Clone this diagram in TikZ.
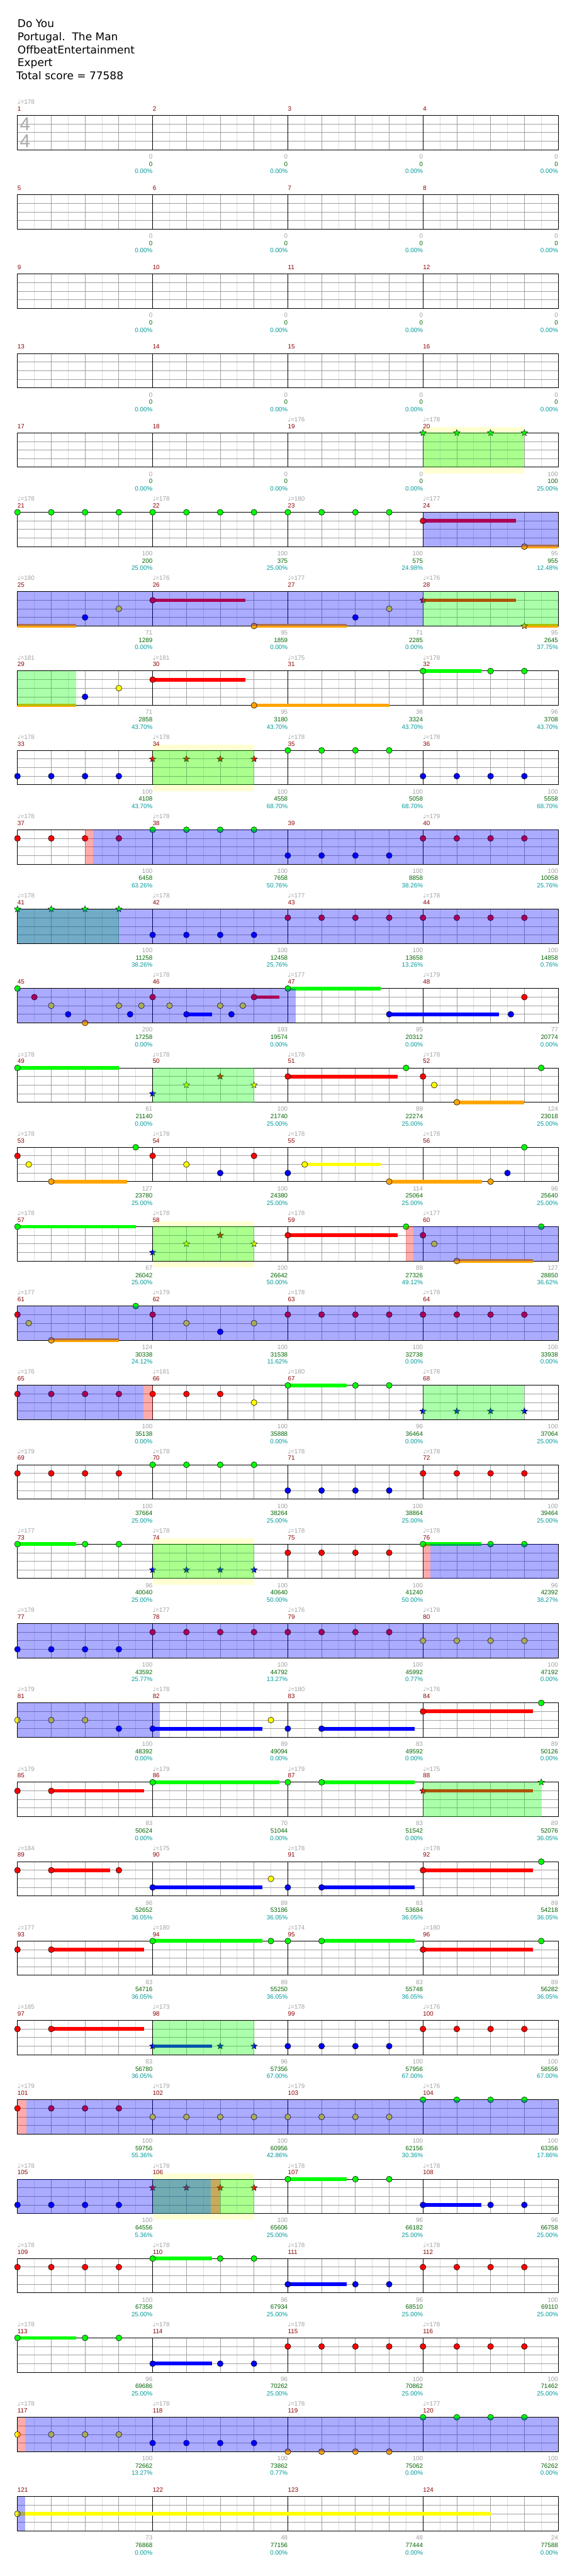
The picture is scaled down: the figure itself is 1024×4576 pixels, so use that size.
\documentclass[tikz,border=0pt]{standalone}
\usepackage{fontspec}
\setmainfont{Liberation Sans}
\newfontfamily\ttlfont{DejaVu Sans}
\newfontfamily\qnfont{DejaVu Sans}
\usepackage{tikz}
\usetikzlibrary{shapes.geometric}
\definecolor{fretgreen}{HTML}{00FF00}
\definecolor{fretred}{HTML}{FF0000}
\definecolor{fretyellow}{HTML}{FFFF00}
\definecolor{fretblue}{HTML}{0000FF}
\definecolor{fretorange}{HTML}{FFA500}
\definecolor{barnum}{HTML}{8B0000}
\definecolor{tempogray}{HTML}{A0A0A0}
\definecolor{scoregreen}{HTML}{006400}
\definecolor{pctteal}{HTML}{009999}
\definecolor{gridlight}{HTML}{DCDCDC}
\definecolor{gridmid}{HTML}{A0A0A0}
\definecolor{sigray}{HTML}{AAAAAA}
\definecolor{soloyellow}{HTML}{FFFFD2}
\pgfdeclarelayer{bg}
\pgfdeclarelayer{grid}
\pgfdeclarelayer{sus}
\pgfdeclarelayer{over}
\pgfdeclarelayer{top}
\pgfsetlayers{bg,grid,sus,main,over,top}
\tikzset{
  % gems
  gem/.style={circle,draw=black,line width=0.6pt,inner sep=0pt,minimum size=10.5pt},
  stargem/.style={star,star points=5,star point ratio=2.3,draw=black,line width=0.5pt,
                  inner sep=0pt,minimum size=12pt},
  susbar/.style={line width=6.5pt},
  % staff
  eighth/.style={draw=gridlight,line width=0.9pt},
  beatline/.style={draw=gridmid,line width=0.9pt},
  barline/.style={draw=black,line width=1.1pt},
  % texts
  header/.style={font=\ttlfont\fontsize{19}{23}\selectfont,anchor=base west,inner sep=0pt},
  timesig/.style={font=\fontsize{33}{33}\selectfont,text=sigray,anchor=base west,inner sep=0pt},
  barnumber/.style={font=\fontsize{11}{12}\selectfont,text=barnum,anchor=base west,inner sep=0pt},
  tempo/.style={font=\fontsize{11}{12}\selectfont,text=tempogray,anchor=base west,inner sep=0pt},
  stat/.style={font=\fontsize{11}{12}\selectfont,anchor=base east,inner sep=0pt},
  % zones
  spfill/.style={fill=fretgreen,fill opacity=0.33},
  odfill/.style={fill=fretblue,fill opacity=0.33},
  actfill/.style={fill=fretred,fill opacity=0.33},
  solofill/.style={fill=soloyellow},
}
% row, lane, colour, beats
\newcommand{\gems}[4]{%
  \foreach \bt [count=\i] in {#4}
    \node[gem,fill=#3] (g#1-#2-#3-\i) at ({31+60*\bt},{205+141*#1+15.25*#2}) {};}
\newcommand{\stargems}[4]{%
  \foreach \bt [count=\i] in {#4}
    \node[stargem,fill=#3] (s#1-#2-#3-\i) at ({31+60*\bt},{205+141*#1+15.25*#2}) {};}
% row, lane, colour, from, to
\newcommand{\sustain}[5]{%
  \begin{pgfonlayer}{sus}
  \draw[susbar,#3] ({31+60*#4},{205+141*#1+15.25*#2}) -- ({31+60*#5},{205+141*#1+15.25*#2});
  \end{pgfonlayer}}
% row, from, to
\newcommand{\spzone}[3]{%
  \begin{pgfonlayer}{over}
  \fill[spfill] ({31+60*#2},{205+141*#1}) rectangle ({31+60*#3},{266+141*#1});
  \end{pgfonlayer}}
\newcommand{\odzone}[3]{%
  \begin{pgfonlayer}{top}
  \fill[odfill] ({31+60*#2},{205+141*#1}) rectangle ({31+60*#3},{266+141*#1});
  \end{pgfonlayer}}
\newcommand{\actzone}[3]{%
  \begin{pgfonlayer}{top}
  \fill[actfill] ({31+60*#2},{205+141*#1}) rectangle ({31+60*#3},{266+141*#1});
  \end{pgfonlayer}}
\newcommand{\solozone}[3]{%
  \begin{pgfonlayer}{bg}
  \fill[solofill] ({31+60*#2},{195+141*#1}) rectangle ({31+60*#3},{277+141*#1});
  \end{pgfonlayer}}

\begin{document}
\begin{tikzpicture}[x=1pt,y=-1pt]
  \useasboundingbox (0,0) rectangle (1024,4576);
  \begin{pgfonlayer}{bg}
  \fill[white] (0,0) rectangle (1024,4576);
  \end{pgfonlayer}
  % header
  \node[header] (song) at (31,49) {Do You};
  \node[header] (artist) at (31,72) {Portugal.\ \ The Man};
  \node[header] (charter) at (31,95) {OffbeatEntertainment};
  \node[header] (level) at (31,118) {Expert};
  \node[header] (total) at (29,141) {Total score = 77588};
  \node[timesig] (tsa) at (35,232) {4};
  \node[timesig] (tsb) at (35,262) {4};
  % staves
  \begin{pgfonlayer}{grid}
  \foreach \r in {0,...,30}{
    \pgfmathsetmacro\tp{205+141*\r}
    \foreach \e in {1,3,...,31}
      \draw[eighth] ({31+30*\e},\tp) -- ++(0,61);
    \foreach \q in {1,2,3,5,6,7,9,10,11,13,14,15}
      \draw[beatline] ({31+60*\q},\tp) -- ++(0,61);
    \foreach \l in {1,2,3}
      \draw[beatline] (31,{\tp+15.25*\l}) -- ++(960,0);
    \foreach \q in {4,8,12}
      \draw[barline] ({31+60*\q},\tp) -- ++(0,61);
    \draw[barline] (31,\tp) rectangle ++(960,61);
  }
  \end{pgfonlayer}
  % bar numbers
  \foreach \m in {1,...,124}{
    \pgfmathtruncatemacro\rw{(\m-1)/4}
    \pgfmathtruncatemacro\cl{\m-1-4*\rw}
    \node[barnumber] (bn\m) at ({31+240*\cl},{197+141*\rw}) {\m};
  }
  % tempi
  \foreach \m/\t in {1/178,19/176,20/178,21/178,22/178,23/180,24/177,25/180,26/176,27/177,28/176,
      29/181,30/181,31/175,32/178,33/178,34/178,35/178,36/178,37/178,38/178,40/179,
      41/178,42/178,43/177,44/178,46/178,47/177,48/179,49/178,50/178,51/178,52/178,
      53/178,54/178,55/178,56/178,57/178,58/178,59/178,60/177,61/177,62/179,63/178,64/178,
      65/176,66/181,67/180,68/178,69/179,70/178,71/178,72/178,73/177,74/178,75/178,76/178,
      77/178,78/177,79/176,80/178,81/179,82/178,83/180,84/176,85/179,86/179,87/179,88/175,
      89/184,90/175,91/178,92/178,93/177,94/180,95/174,96/180,97/185,98/173,99/178,100/176,
      101/179,102/179,103/179,104/176,105/178,106/178,107/178,108/178,109/178,110/178,
      111/178,112/178,113/178,114/178,115/178,116/178,117/178,118/178,119/178,120/177}{
    \pgfmathtruncatemacro\rw{(\m-1)/4}
    \pgfmathtruncatemacro\cl{\m-1-4*\rw}
    \node[tempo] (tp\m) at ({31+240*\cl},{185+141*\rw}) {{\qnfont ♩}=\t};
  }
  % scores
  \foreach \m/\p/\s/\q in {1/0/0/0.00,2/0/0/0.00,3/0/0/0.00,4/0/0/0.00,5/0/0/0.00,6/0/0/0.00,
      7/0/0/0.00,8/0/0/0.00,9/0/0/0.00,10/0/0/0.00,11/0/0/0.00,12/0/0/0.00,13/0/0/0.00,
      14/0/0/0.00,15/0/0/0.00,16/0/0/0.00,17/0/0/0.00,18/0/0/0.00,19/0/0/0.00,20/100/100/25.00,
      21/100/200/25.00,22/100/375/25.00,23/100/575/24.98,24/95/955/12.48,
      25/71/1289/0.00,26/95/1859/0.00,27/71/2285/0.00,28/95/2645/37.75,
      29/71/2858/43.70,30/95/3180/43.70,31/36/3324/43.70,32/96/3708/43.70,
      33/100/4108/43.70,34/100/4558/68.70,35/100/5058/68.70,36/100/5558/68.70,
      37/100/6458/63.26,38/100/7658/50.76,39/100/8858/38.26,40/100/10058/25.76,
      41/100/11258/38.26,42/100/12458/25.76,43/100/13658/13.26,44/100/14858/0.76,
      45/200/17258/0.00,46/193/19574/0.00,47/95/20312/0.00,48/77/20774/0.00,
      49/61/21140/0.00,50/100/21740/25.00,51/89/22274/25.00,52/124/23018/25.00,
      53/127/23780/25.00,54/100/24380/25.00,55/114/25064/25.00,56/96/25640/25.00,
      57/67/26042/25.00,58/100/26642/50.00,59/89/27326/49.12,60/127/28850/36.62,
      61/124/30338/24.12,62/100/31538/11.62,63/100/32738/0.00,64/100/33938/0.00,
      65/100/35138/0.00,66/100/35888/0.00,67/96/36464/0.00,68/100/37064/25.00,
      69/100/37664/25.00,70/100/38264/25.00,71/100/38864/25.00,72/100/39464/25.00,
      73/96/40040/25.00,74/100/40640/50.00,75/100/41240/50.00,76/96/42392/38.27,
      77/100/43592/25.77,78/100/44792/13.27,79/100/45992/0.77,80/100/47192/0.00,
      81/100/48392/0.00,82/89/49094/0.00,83/83/49592/0.00,84/89/50126/0.00,
      85/83/50624/0.00,86/70/51044/0.00,87/83/51542/0.00,88/89/52076/36.05,
      89/96/52652/36.05,90/89/53186/36.05,91/83/53684/36.05,92/89/54218/36.05,
      93/83/54716/36.05,94/89/55250/36.05,95/83/55748/36.05,96/89/56282/36.05,
      97/83/56780/36.05,98/96/57356/67.00,99/100/57956/67.00,100/100/58556/67.00,
      101/100/59756/55.36,102/100/60956/42.86,103/100/62156/30.36,104/100/63356/17.86,
      105/100/64556/5.36,106/100/65606/25.00,107/96/66182/25.00,108/96/66758/25.00,
      109/100/67358/25.00,110/96/67934/25.00,111/96/68510/25.00,112/100/69110/25.00,
      113/96/69686/25.00,114/96/70262/25.00,115/100/70862/25.00,116/100/71462/25.00,
      117/100/72662/13.27,118/100/73862/0.77,119/100/75062/0.00,120/100/76262/0.00,
      121/73/76868/0.00,122/48/77156/0.00,123/48/77444/0.00,124/24/77588/0.00}{
    \pgfmathtruncatemacro\rw{(\m-1)/4}
    \pgfmathtruncatemacro\cl{\m-1-4*\rw}
    \node[stat,text=tempogray] (pt\m) at ({271+240*\cl},{282+141*\rw}) {\p};
    \node[stat,text=scoregreen] (sc\m) at ({271+240*\cl},{295+141*\rw}) {\s};
    \node[stat,text=pctteal] (pc\m) at ({271+240*\cl},{308+141*\rw}) {\q\%};
  }
  % 17-20
  \solozone{4}{12}{15}
  \stargems{4}{0}{fretgreen}{12,13,14,15}
  \spzone{4}{12}{15}
  % 21-24
  \gems{5}{0}{fretgreen}{0,...,11}
  \sustain{5}{1}{fretred}{12}{14.75} \gems{5}{1}{fretred}{12}
  \sustain{5}{4}{fretorange}{15}{16} \gems{5}{4}{fretorange}{15}
  \odzone{5}{12}{16}
  % 25-28
  \sustain{6}{4}{fretorange}{0}{1.73}
  \gems{6}{3}{fretblue}{2,10}
  \gems{6}{2}{fretyellow}{3,11}
  \sustain{6}{1}{fretred}{4}{6.75} \gems{6}{1}{fretred}{4}
  \sustain{6}{4}{fretorange}{7}{9.75} \gems{6}{4}{fretorange}{7}
  \sustain{6}{1}{fretred}{12}{14.75} \stargems{6}{1}{fretred}{12}
  \sustain{6}{4}{fretorange}{15}{16} \stargems{6}{4}{fretorange}{15}
  \odzone{6}{0}{12} \spzone{6}{12}{16}
  % 29-32
  \sustain{7}{4}{fretorange}{0}{1.73}
  \gems{7}{3}{fretblue}{2}
  \gems{7}{2}{fretyellow}{3}
  \sustain{7}{1}{fretred}{4}{6.75} \gems{7}{1}{fretred}{4}
  \sustain{7}{4}{fretorange}{7}{11} \gems{7}{4}{fretorange}{7}
  \sustain{7}{0}{fretgreen}{12}{13.73} \gems{7}{0}{fretgreen}{12,14,15}
  \spzone{7}{0}{1.73}
  % 33-36
  \solozone{8}{4}{7}
  \gems{8}{3}{fretblue}{0,1,2,3,12,13,14,15}
  \stargems{8}{1}{fretred}{4,5,6,7}
  \gems{8}{0}{fretgreen}{8,9,10,11}
  \spzone{8}{4}{7}
  % 37-40
  \gems{9}{1}{fretred}{0,1,2,3,12,13,14,15}
  \gems{9}{0}{fretgreen}{4,5,6,7}
  \gems{9}{3}{fretblue}{8,9,10,11}
  \actzone{9}{2}{2.24} \odzone{9}{2.24}{16}
  % 41-44
  \stargems{10}{0}{fretgreen}{0,1,2,3}
  \gems{10}{3}{fretblue}{4,5,6,7}
  \gems{10}{1}{fretred}{8,...,15}
  \spzone{10}{0}{3} \odzone{10}{0}{16}
  % 45-48
  \sustain{11}{3}{fretblue}{5}{5.75}
  \sustain{11}{1}{fretred}{7}{7.75}
  \sustain{11}{0}{fretgreen}{8}{10.75}
  \sustain{11}{3}{fretblue}{11}{14.25}
  \gems{11}{0}{fretgreen}{0,8}
  \gems{11}{1}{fretred}{0.5,4,7,15}
  \gems{11}{2}{fretyellow}{1,3,3.667,4.5,6,6.667}
  \gems{11}{3}{fretblue}{1.5,3.333,5,6.333,11,14.6}
  \gems{11}{4}{fretorange}{2}
  \odzone{11}{0}{8.23}
  % 49-52
  \sustain{12}{0}{fretgreen}{0}{3} \gems{12}{0}{fretgreen}{0,11.5,15.5}
  \stargems{12}{3}{fretblue}{4} \stargems{12}{2}{fretyellow}{5,7} \stargems{12}{1}{fretred}{6}
  \sustain{12}{1}{fretred}{8}{11.25} \gems{12}{1}{fretred}{8,12}
  \gems{12}{2}{fretyellow}{12.333}
  \sustain{12}{4}{fretorange}{13}{15} \gems{12}{4}{fretorange}{13}
  \spzone{12}{4}{7}
  % 53-56
  \sustain{13}{4}{fretorange}{1}{3.25}
  \sustain{13}{2}{fretyellow}{8.5}{10.75}
  \sustain{13}{4}{fretorange}{11}{13.75}
  \gems{13}{1}{fretred}{0,4,7}
  \gems{13}{2}{fretyellow}{0.333,5,8.5}
  \gems{13}{4}{fretorange}{1,11,14}
  \gems{13}{0}{fretgreen}{3.5,15}
  \gems{13}{3}{fretblue}{6,8,14.5}
  % 57-60
  \solozone{14}{4}{7}
  \sustain{14}{0}{fretgreen}{0}{3.5} \gems{14}{0}{fretgreen}{0,11.5,15.5}
  \stargems{14}{3}{fretblue}{4} \stargems{14}{2}{fretyellow}{5,7} \stargems{14}{1}{fretred}{6}
  \sustain{14}{1}{fretred}{8}{11.25} \gems{14}{1}{fretred}{8,12}
  \gems{14}{2}{fretyellow}{12.333}
  \sustain{14}{4}{fretorange}{13}{15.25} \gems{14}{4}{fretorange}{13}
  \spzone{14}{4}{7}
  \actzone{14}{11.5}{11.72} \odzone{14}{11.72}{16}
  % 61-64
  \sustain{15}{4}{fretorange}{1}{3}
  \gems{15}{1}{fretred}{0,4,8,9,10,11,12,13,14,15}
  \gems{15}{2}{fretyellow}{0.333,5,7}
  \gems{15}{4}{fretorange}{1}
  \gems{15}{0}{fretgreen}{3.5}
  \gems{15}{3}{fretblue}{6}
  \odzone{15}{0}{16}
  % 65-68
  \gems{16}{1}{fretred}{0,1,2,3,4,5,6}
  \gems{16}{2}{fretyellow}{7}
  \sustain{16}{0}{fretgreen}{8}{9.75} \gems{16}{0}{fretgreen}{8,10,11}
  \stargems{16}{3}{fretblue}{12,13,14,15}
  \spzone{16}{12}{15}
  \odzone{16}{0}{3.72} \actzone{16}{3.72}{4}
  % 69-72
  \gems{17}{1}{fretred}{0,1,2,3,12,13,14,15}
  \gems{17}{0}{fretgreen}{4,5,6,7}
  \gems{17}{3}{fretblue}{8,9,10,11}
  % 73-76
  \solozone{18}{4}{7}
  \sustain{18}{0}{fretgreen}{0}{1.73}
  \sustain{18}{0}{fretgreen}{12}{13.73}
  \gems{18}{0}{fretgreen}{0,2,3,12,14,15}
  \stargems{18}{3}{fretblue}{4,5,6,7}
  \gems{18}{1}{fretred}{8,9,10,11}
  \spzone{18}{4}{7}
  \actzone{18}{12}{12.22} \odzone{18}{12.22}{16}
  % 77-80
  \gems{19}{3}{fretblue}{0,1,2,3}
  \gems{19}{1}{fretred}{4,...,11}
  \gems{19}{2}{fretyellow}{12,13,14,15}
  \odzone{19}{0}{16}
  % 81-84
  \sustain{20}{3}{fretblue}{4}{7.25}
  \sustain{20}{3}{fretblue}{9}{11.75}
  \sustain{20}{1}{fretred}{12}{15.25}
  \gems{20}{2}{fretyellow}{0,1,2,7.5}
  \gems{20}{3}{fretblue}{3,4,8,9}
  \gems{20}{1}{fretred}{12}
  \gems{20}{0}{fretgreen}{15.5}
  \odzone{20}{0}{4.22}
  % 85-88
  \sustain{21}{1}{fretred}{1}{3.75}
  \sustain{21}{0}{fretgreen}{4}{7.75}
  \sustain{21}{0}{fretgreen}{9}{11.75}
  \sustain{21}{1}{fretred}{12}{15.25}
  \gems{21}{1}{fretred}{0,1}
  \gems{21}{0}{fretgreen}{4,8,9}
  \stargems{21}{1}{fretred}{12}
  \stargems{21}{0}{fretgreen}{15.5}
  \spzone{21}{12}{15.5}
  % 89-92
  \sustain{22}{1}{fretred}{1}{2.75}
  \sustain{22}{3}{fretblue}{4}{7.25}
  \sustain{22}{3}{fretblue}{9}{11.75}
  \sustain{22}{1}{fretred}{12}{15.25}
  \gems{22}{1}{fretred}{0,1,3,12}
  \gems{22}{3}{fretblue}{4,8,9}
  \gems{22}{2}{fretyellow}{7.5}
  \gems{22}{0}{fretgreen}{15.5}
  % 93-96
  \sustain{23}{1}{fretred}{1}{3.75}
  \sustain{23}{0}{fretgreen}{4}{7.25}
  \sustain{23}{0}{fretgreen}{9}{11.75}
  \sustain{23}{1}{fretred}{12}{15.25}
  \gems{23}{1}{fretred}{0,1,12}
  \gems{23}{0}{fretgreen}{4,7.5,8,9,15.5}
  % 97-100
  \sustain{24}{1}{fretred}{1}{3.75}
  \sustain{24}{3}{fretblue}{4}{5.75}
  \gems{24}{1}{fretred}{0,1,12,13,14,15}
  \stargems{24}{3}{fretblue}{4,6,7}
  \gems{24}{3}{fretblue}{8,9,10,11}
  \spzone{24}{4}{7}
  % 101-104
  \gems{25}{1}{fretred}{0,1,2,3}
  \gems{25}{2}{fretyellow}{4,...,11}
  \gems{25}{0}{fretgreen}{12,13,14,15}
  \actzone{25}{0}{0.26} \odzone{25}{0.26}{16}
  % 105-108
  \solozone{26}{4}{7}
  \sustain{26}{0}{fretgreen}{8}{9.75}
  \sustain{26}{3}{fretblue}{12}{13.73}
  \gems{26}{3}{fretblue}{0,1,2,3,12,14,15}
  \stargems{26}{1}{fretred}{4,5,6,7}
  \gems{26}{0}{fretgreen}{8,10,11}
  \spzone{26}{4}{7}
  \odzone{26}{0}{5.72} \actzone{26}{5.72}{6}
  % 109-112
  \sustain{27}{0}{fretgreen}{4}{5.75}
  \sustain{27}{3}{fretblue}{8}{9.75}
  \gems{27}{1}{fretred}{0,1,2,3,12,13,14,15}
  \gems{27}{0}{fretgreen}{4,6,7}
  \gems{27}{3}{fretblue}{8,10,11}
  % 113-116
  \sustain{28}{0}{fretgreen}{0}{1.73}
  \sustain{28}{3}{fretblue}{4}{5.75}
  \gems{28}{0}{fretgreen}{0,2,3}
  \gems{28}{3}{fretblue}{4,6,7}
  \gems{28}{1}{fretred}{8,...,15}
  % 117-120
  \gems{29}{2}{fretyellow}{0,1,2,3}
  \gems{29}{3}{fretblue}{4,5,6,7}
  \gems{29}{4}{fretorange}{8,9,10,11}
  \gems{29}{0}{fretgreen}{12,13,14,15}
  \actzone{29}{0}{0.22} \odzone{29}{0.22}{16}
  % 121-124
  \sustain{30}{2}{fretyellow}{0}{14} \gems{30}{2}{fretyellow}{0}
  \odzone{30}{0}{0.22}
\end{tikzpicture}
\end{document}
